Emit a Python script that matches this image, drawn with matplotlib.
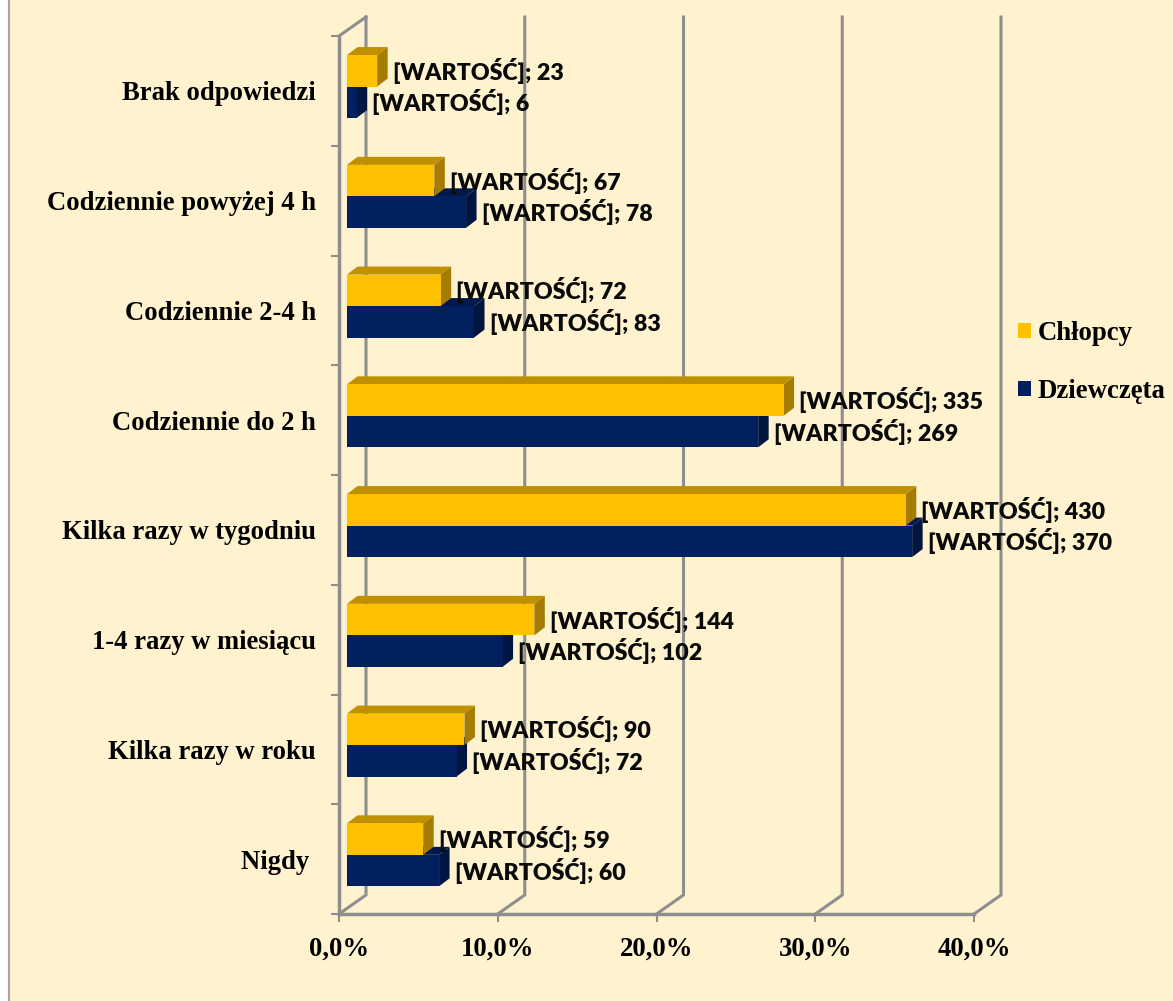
import matplotlib
matplotlib.use('Agg')
import matplotlib.pyplot as plt
from matplotlib.lines import Line2D
from matplotlib.patches import Patch, Polygon, Rectangle

categories = ['Nigdy ', 'Kilka razy w roku', '1-4 razy w miesiącu', 'Kilka razy w tygodniu',
              'Codziennie do 2 h', 'Codziennie 2-4 h', 'Codziennie powyżej 4 h', 'Brak odpowiedzi']
boys_pct = [4.8, 7.4, 11.8, 35.2, 27.5, 5.9, 5.5, 1.9]
girls_pct = [5.8, 6.9, 9.8, 35.6, 25.9, 8.0, 7.5, 0.6]
boys_n = [59, 90, 144, 430, 335, 72, 67, 23]
girls_n = [60, 72, 102, 370, 269, 83, 78, 6]
x_ticks = [0, 10, 20, 30, 40]
x_labels = ['0,0%', '10,0%', '20,0%', '30,0%', '40,0%']

BG = '#FFF2CF'
GREY = '#8E8E8E'
SERIF = 'Liberation Serif'

W, H = 1173, 1001
fig = plt.figure(figsize=(W / 100, H / 100), dpi=100, facecolor='white')
# chart area, white strip and grey line on the left only
fig.add_artist(Rectangle((9 / W, 0), 1 - 9 / W, 1, transform=fig.transFigure,
                         facecolor=BG, edgecolor='none', zorder=-2))
fig.add_artist(Line2D([9 / W, 9 / W], [0, 1], transform=fig.transFigure, color='#A6A6A6', lw=1.6, zorder=-1))

ax = fig.add_axes([339 / W, 1 - 914 / H, 635 / W, 878 / H])
ax.patch.set_alpha(0)
ax.set_xlim(0, 40)
ax.set_ylim(-0.5, 7.5)
for name in ['top', 'right']:
    ax.spines[name].set_visible(False)
for name in ['left', 'bottom']:
    ax.spines[name].set_color(GREY)
    ax.spines[name].set_linewidth(2.5)
    ax.spines[name].set_zorder(1)

px_x = 635 / 40
px_y = 878 / 8

# back wall of the fake 3d box
wall_x, wall_y = 27 / px_x, 19 / px_y
for t in x_ticks:
    ax.plot([t, t + wall_x, t + wall_x], [-0.5, -0.5 + wall_y, 7.5 + wall_y], color=GREY, lw=2.2,
            clip_on=False, zorder=1, solid_joinstyle='miter')
ax.plot([0, wall_x], [7.5, 7.5 + wall_y], color=GREY, lw=2.2, clip_on=False, zorder=1)

bar_h = 31.5 / px_y
start_x = 8 / px_x
shift_y = 4.3 / px_y
depth_x, depth_y = 10.5 / px_x, 8 / px_y


def bar3d(values, side, colors, z):
    face, top, right = colors
    for i, v in enumerate(values):
        y0 = i + shift_y if side > 0 else i + shift_y - bar_h
        y1 = y0 + bar_h
        x0 = start_x
        x1 = start_x + v
        ax.add_patch(Polygon([(x1, y0), (x1 + depth_x, y0 + depth_y), (x1 + depth_x, y1 + depth_y), (x1, y1)],
                             facecolor=right, edgecolor='none', clip_on=False, zorder=z))
        ax.add_patch(Polygon([(x0, y1), (x0 + depth_x, y1 + depth_y), (x1 + depth_x, y1 + depth_y), (x1, y1)],
                             facecolor=top, edgecolor='none', clip_on=False, zorder=z))
        ax.barh(y0, v, height=bar_h, left=x0, align='edge', color=face, zorder=z + 0.1, clip_on=False)


bar3d(girls_pct, -1, ('#002060', '#00194D', '#001540'), 3)
bar3d(boys_pct, 1, ('#FFC000', '#BF9000', '#A67C00'), 4)

# value labels
for i in range(len(categories)):
    ax.annotate(f'[WARTOŚĆ]; {boys_n[i]}', (start_x + boys_pct[i] + depth_x, i + shift_y + bar_h / 2),
                xytext=(5, 0), textcoords='offset pixels', va='center', ha='left',
                fontfamily='Lato', fontweight='heavy', fontsize=16.7, color='#0A0A0A', zorder=6, annotation_clip=False)
    ax.annotate(f'[WARTOŚĆ]; {girls_n[i]}', (start_x + girls_pct[i] + depth_x, i + shift_y - bar_h / 2),
                xytext=(5, 0), textcoords='offset pixels', va='center', ha='left',
                fontfamily='Lato', fontweight='heavy', fontsize=16.7, color='#0A0A0A', zorder=6, annotation_clip=False)

ax.set_xticks(x_ticks)
ax.set_xticklabels(x_labels, fontfamily=SERIF, fontweight='bold', fontsize=19.3)
ax.tick_params(axis='x', length=6, width=1.5, color=GREY, pad=10)
ax.set_yticks(range(len(categories)))
ax.set_yticklabels(categories, fontfamily=SERIF, fontweight='bold', fontsize=19.2)
ax.tick_params(axis='y', which='major', length=0, pad=16.5)
ax.set_yticks([i - 0.5 for i in range(len(categories) + 1)], minor=True)
ax.tick_params(axis='y', which='minor', length=6, width=1.5, color=GREY)

handles = [Patch(facecolor='#FFC000', label='Chłopcy'), Patch(facecolor='#002060', label='Dziewczęta')]
ax.legend(handles=handles, loc='center left', bbox_to_anchor=(1017.5 / W, 1 - 362.5 / H),
          bbox_transform=fig.transFigure, frameon=False, handlelength=0.52, handleheight=0.52,
          handletextpad=0.22, labelspacing=1.22, borderpad=0, borderaxespad=0,
          prop={'family': SERIF, 'weight': 'bold', 'size': 19.3})

fig.savefig('out.png', dpi=100, facecolor=fig.get_facecolor())
